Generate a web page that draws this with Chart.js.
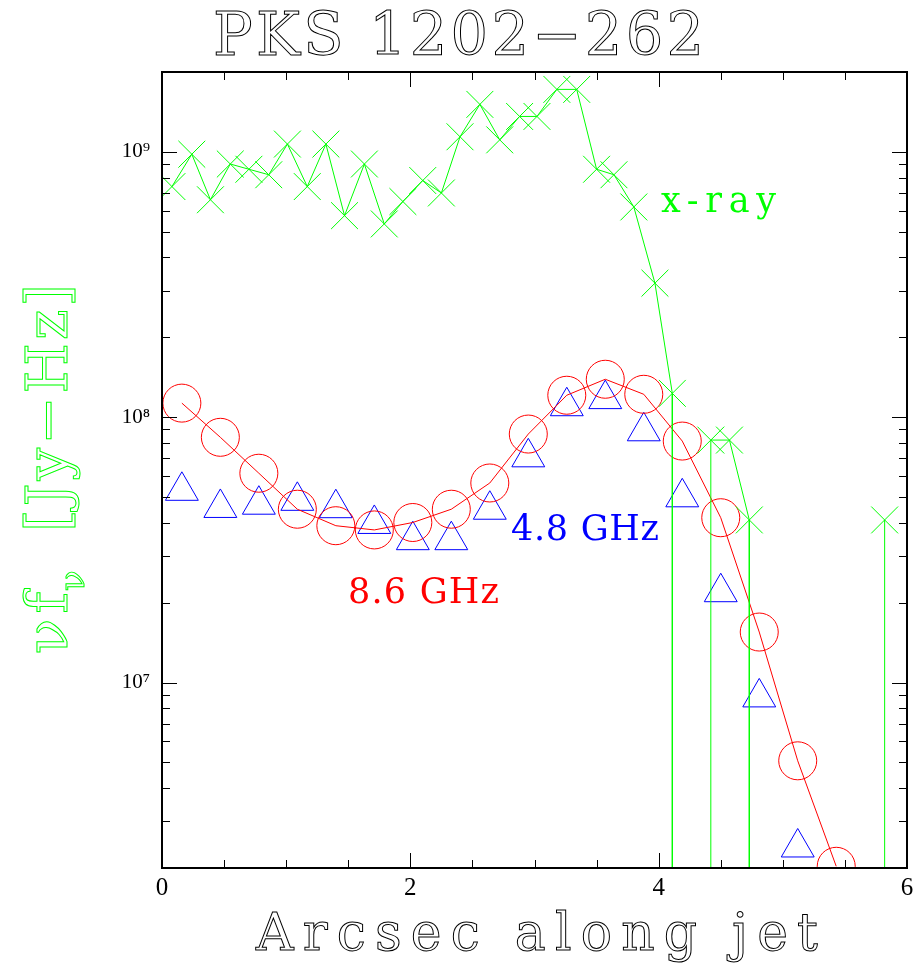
<!DOCTYPE html>
<html>
<head>
<meta charset="utf-8">
<title>PKS 1202-262</title>
<script src="https://cdn.jsdelivr.net/npm/chart.js@4.4.1/dist/chart.umd.min.js"></script>
<style>
  html, body { margin: 0; padding: 0; background: #fff; }
  canvas { display: block; }
</style>
</head>
<body>
<canvas id="jetChart" width="916" height="966"></canvas>
<script>
// x-ray profile; the 1e4 entries are non-detections that drop below the plot floor
const xrayPos = [0.08, 0.24, 0.39, 0.55, 0.70, 0.86, 1.01, 1.17, 1.32, 1.47, 1.63, 1.79,
                 1.94, 2.10, 2.25, 2.40, 2.56, 2.72, 2.88, 3.02, 3.18, 3.34, 3.50, 3.64,
                 3.80, 3.97, 4.11, 4.11, 4.42, 4.42, 4.57, 4.73, 4.73, 5.82, 5.82];
const xrayFlux = [7.4e8, 9.8e8, 6.6e8, 9.0e8, 8.6e8, 8.2e8, 1.07e9, 7.4e8, 1.07e9, 5.75e8, 9.0e8, 5.35e8,
                  6.5e8, 7.8e8, 7.0e8, 1.14e9, 1.51e9, 1.11e9, 1.36e9, 1.36e9, 1.72e9, 1.72e9, 8.6e8, 8.2e8,
                  6.2e8, 3.2e8, 1.23e8, 1e4, 1e4, 8.2e7, 8.2e7, 4.1e7, 1e4, 1e4, 4.1e7];

// 8.6 GHz radio profile (red circles + line)
const radio86Pos = [0.16, 0.47, 0.78, 1.09, 1.40, 1.71, 2.02, 2.33, 2.64, 2.95, 3.26, 3.57,
                    3.88, 4.19, 4.50, 4.81, 5.12, 5.43];
const radio86Flux = [1.13e8, 8.4e7, 6.15e7, 4.5e7, 3.9e7, 3.76e7, 4.01e7, 4.5e7, 5.65e7, 8.64e7, 1.21e8, 1.39e8,
                     1.22e8, 8.13e7, 4.18e7, 1.55e7, 5.07e6, 2.03e6];

// 4.8 GHz radio profile (blue triangles)
const radio48Pos = [0.16, 0.47, 0.78, 1.09, 1.40, 1.71, 2.02, 2.33, 2.64, 2.95, 3.26, 3.57,
                    3.88, 4.19, 4.50, 4.81, 5.12];
const radio48Flux = [5.28e7, 4.55e7, 4.68e7, 4.84e7, 4.54e7, 3.96e7, 3.44e7, 3.44e7, 4.48e7, 7.06e7, 1.10e8, 1.17e8,
                     8.85e7, 4.99e7, 2.19e7, 8.79e6, 2.39e6];

// axis ticks
const xTicks = [0, 2, 4, 6];
const yTicks = [1e7, 1e8, 1e9];
const yTickLabels = ['10\u2077', '10\u2078', '10\u2079'];

const serif = '"Liberation Serif", "DejaVu Serif", serif';
const wideSerif = '"DejaVu Serif", "Liberation Serif", serif';
const green = '#00ff00';
const red = '#ff0000';
const blue = '#0000ff';

function toPoints(xs, ys) {
    return xs.map((x, i) => ({ x: x, y: ys[i] }));
}

// Draw text stretched between u0 and u1 (wide Hershey-like spacing)
function spreadText(ctx, text, u0, u1, v, stroke) {
    if ('letterSpacing' in ctx) ctx.letterSpacing = '0px';
    const w = ctx.measureText(text).width;
    const n = text.length;
    if ('letterSpacing' in ctx && n > 1) {
        ctx.letterSpacing = ((u1 - u0 - w) / (n - 1)) + 'px';
    }
    ctx.textAlign = 'left';
    if (stroke) ctx.strokeText(text, u0, v);
    else ctx.fillText(text, u0, v);
    if ('letterSpacing' in ctx) ctx.letterSpacing = '0px';
}

function tick(ctx, x0, y0, x1, y1) {
    ctx.beginPath();
    ctx.moveTo(x0, y0);
    ctx.lineTo(x1, y1);
    ctx.stroke();
}

// Box around the plot with inward ticks on all four sides
const framePlugin = {
    id: 'frame',
    afterDatasetsDraw(chart) {
        const { ctx, chartArea: a, scales: { x, y } } = chart;
        ctx.save();
        ctx.strokeStyle = '#000';
        ctx.lineWidth = 1;
        for (let i = 0; i <= 12; i++) {
            const v = i * 0.5;
            const px = Math.round(x.getPixelForValue(v)) + 0.5;
            const len = (i % 4 === 0) ? 15 : 8;
            tick(ctx, px, a.bottom, px, a.bottom - len);
            tick(ctx, px, a.top, px, a.top + len);
        }
        for (let e = 6; e <= 9; e++) {
            for (let m = 1; m <= 9; m++) {
                const v = m * Math.pow(10, e);
                if (v < y.min || v > y.max) continue;
                const py = Math.round(y.getPixelForValue(v)) + 0.5;
                const len = (m === 1) ? 15 : 8;
                tick(ctx, a.left, py, a.left + len, py);
                tick(ctx, a.right, py, a.right - len, py);
            }
        }
        ctx.lineWidth = 2;
        ctx.strokeRect(a.left, a.top, a.right - a.left, a.bottom - a.top);
        ctx.restore();
    }
};

// Title, axis titles and series labels
const labelPlugin = {
    id: 'labels',
    afterDraw(chart) {
        const ctx = chart.ctx;
        ctx.save();
        ctx.lineWidth = 1;
        ctx.textBaseline = 'alphabetic';

        // title
        ctx.strokeStyle = '#000';
        ctx.font = '59px ' + wideSerif;
        spreadText(ctx, 'PKS 1202\u2212262', 213, 704, 55, true);

        // x axis title
        ctx.font = '52px ' + wideSerif;
        spreadText(ctx, 'Arcsec along jet', 256, 818, 950, true);

        // y axis title, rotated
        ctx.save();
        ctx.translate(67, 0);
        ctx.rotate(-Math.PI / 2);
        ctx.strokeStyle = green;
        ctx.font = '58px ' + wideSerif;
        spreadText(ctx, '\u03bdf', -654, -592, 0, true);
        ctx.font = '34px ' + wideSerif;
        spreadText(ctx, '\u03bd', -591, -571, 17, true);
        ctx.font = '58px ' + wideSerif;
        spreadText(ctx, '[Jy\u2212Hz]', -532, -284, 0, true);
        ctx.restore();

        // series labels
        ctx.font = '35px ' + wideSerif;
        ctx.fillStyle = green;
        spreadText(ctx, 'x-ray', 661, 776, 212, false);
        ctx.fillStyle = blue;
        spreadText(ctx, '4.8 GHz', 511, 659, 540, false);
        ctx.fillStyle = red;
        spreadText(ctx, '8.6 GHz', 348, 499, 603, false);
        ctx.restore();
    }
};

const ctx = document.getElementById('jetChart').getContext('2d');
new Chart(ctx, {
    type: 'scatter',
    data: {
        datasets: [
            {
                label: 'x-ray',
                data: toPoints(xrayPos, xrayFlux),
                showLine: true,
                borderColor: green,
                borderWidth: 1,
                pointStyle: 'crossRot',
                pointRadius: 19,
                pointHoverRadius: 19,
                pointBorderColor: green,
                pointBorderWidth: 1,
                pointBackgroundColor: 'transparent',
                clip: 0
            },
            {
                label: '8.6 GHz',
                data: toPoints(radio86Pos, radio86Flux),
                showLine: true,
                borderColor: red,
                borderWidth: 1,
                pointStyle: 'circle',
                pointRadius: 19,
                pointHoverRadius: 19,
                pointBorderColor: red,
                pointBorderWidth: 1,
                pointBackgroundColor: 'transparent',
                clip: 0
            },
            {
                label: '4.8 GHz',
                data: toPoints(radio48Pos, radio48Flux),
                showLine: false,
                pointStyle: 'triangle',
                pointRadius: 19,
                pointHoverRadius: 19,
                pointBorderColor: blue,
                pointBorderWidth: 1,
                pointBackgroundColor: 'transparent',
                clip: 0
            }
        ]
    },
    options: {
        responsive: false,
        animation: false,
        devicePixelRatio: 1,
        events: [],
        // big markers would otherwise push the plot edges inwards
        layout: { autoPadding: false, padding: { top: 72, right: 9, left: 0, bottom: 0 } },
        plugins: {
            legend: { display: false },
            tooltip: { enabled: false },
            title: { display: false }
        },
        scales: {
            x: {
                type: 'linear',
                min: 0,
                max: 6,
                afterFit: s => {
                    s.height = 98;
                    s.paddingLeft = 0;
                    s.paddingRight = 0;
                },
                afterBuildTicks: s => { s.ticks = xTicks.map(v => ({ value: v })); },
                grid: { display: false, drawTicks: false },
                border: { display: false },
                ticks: {
                    autoSkip: false,
                    maxRotation: 0,
                    padding: 5,
                    color: '#000',
                    font: { family: serif, size: 25 },
                    callback: v => String(v)
                }
            },
            y: {
                type: 'logarithmic',
                min: 2e6,
                max: 2e9,
                afterFit: s => {
                    s.width = 162;
                    s.paddingTop = 0;
                    s.paddingBottom = 0;
                },
                afterBuildTicks: s => { s.ticks = yTicks.map(v => ({ value: v })); },
                grid: { display: false, drawTicks: false },
                border: { display: false },
                ticks: {
                    autoSkip: false,
                    padding: 12,
                    color: '#000',
                    font: { family: serif, size: 21 },
                    callback: v => yTickLabels[yTicks.indexOf(v)]
                }
            }
        }
    },
    plugins: [framePlugin, labelPlugin]
});
</script>
</body>
</html>
